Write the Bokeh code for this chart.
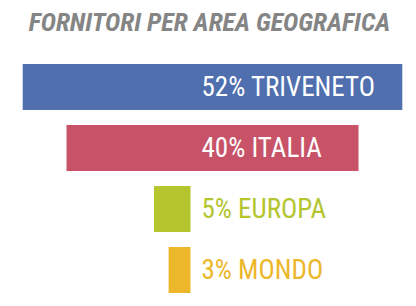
from bokeh.plotting import figure
from bokeh.models import Range1d, ColumnDataSource
from bokeh.core.properties import value
from bokeh.embed import file_html
from bokeh.resources import INLINE

# data
regions = ["TRIVENETO", "ITALIA", "EUROPA", "MONDO"]
shares = [52, 40, 5, 3]
bar_colors = ["#4f6fae", "#c85368", "#b4c52e", "#ecb72a"]
label_colors = ["#ffffff", "#ffffff", "#b4c52e", "#ecb72a"]
title_text = "FORNITORI PER AREA GEOGRAFICA"

W, H = 416, 306
px_per_unit = 7.3
center_anchor = 212 / px_per_unit
right_anchor = 190 / px_per_unit
label_x = 201 / px_per_unit
row_px = 61.0
first_px = 86.5

labels = [f"{v}% {r}" for v, r in zip(shares, regions)]
ys = list(range(len(regions)))
lefts, rights = [], []
for i, v in enumerate(shares):
    if i < 2:
        lefts.append(center_anchor - v / 2)
        rights.append(center_anchor + v / 2)
    else:
        lefts.append(right_anchor - v)
        rights.append(right_anchor)

src = ColumnDataSource(dict(y=ys, left=lefts, right=rights, color=bar_colors,
                            label=labels, lcolor=label_colors,
                            lx=[label_x] * len(ys)))

p = figure(width=W, height=H, output_backend="svg", toolbar_location=None,
           x_range=Range1d(0, W / px_per_unit),
           y_range=Range1d((H - first_px) / row_px, -first_px / row_px),
           min_border=0)
p.axis.visible = False
p.grid.visible = False
p.outline_line_color = None
p.background_fill_color = "white"

p.hbar(y="y", left="left", right="right", height=46 / row_px, color="color",
       line_color=None, source=src)
p.text(x="lx", y="y", text="label", text_color="lcolor", source=src,
       text_font=value("Roboto Condensed"),
       text_font_size="27px", text_baseline="middle", text_align="left")

p.text(x=[209 / px_per_unit], y=[(21 - first_px) / row_px], text=[title_text],
       text_color="#858585", text_font_style="bold italic",
       text_font=value("Roboto Condensed"),
       text_font_size="26px", text_baseline="middle", text_align="center")

open("out.html", "w").write(file_html(p, INLINE))
